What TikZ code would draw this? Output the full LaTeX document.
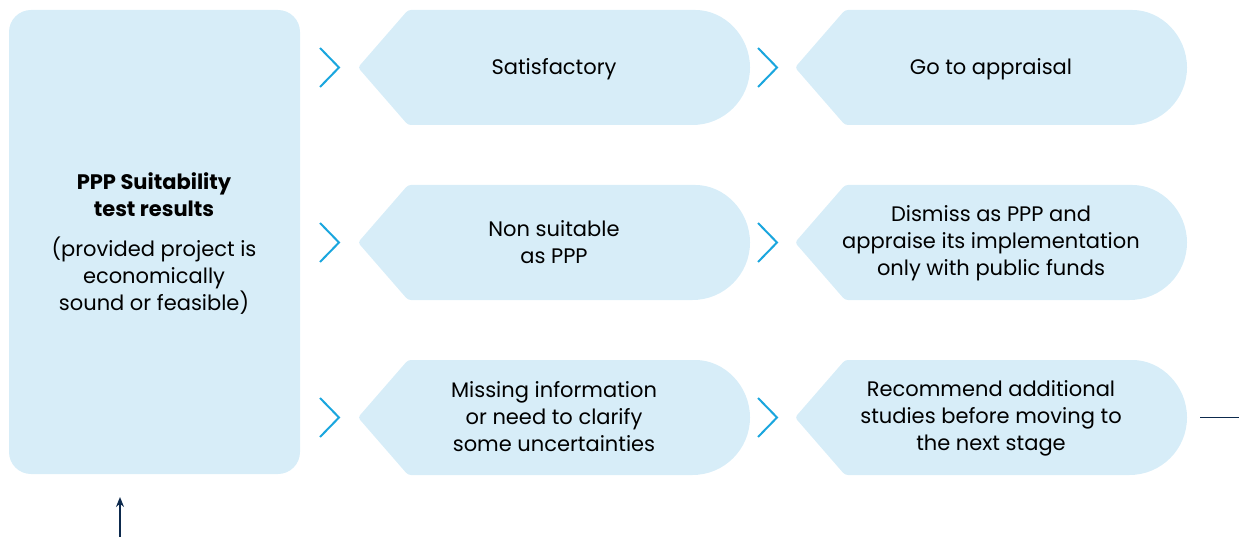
\documentclass[tikz,border=0pt]{standalone}
\usepackage{fontspec}
\setmainfont{Poppins}
\usetikzlibrary{arrows.meta}
\definecolor{boxfill}{HTML}{D7EDF8}
\definecolor{chevcol}{HTML}{1AA6DE}
\definecolor{navy}{HTML}{0D2A4D}
\tikzset{
  x=1pt, y=-1pt,
  lbl/.style={align=center, font=\fontsize{21}{27}\selectfont, text=black},
  chev/.style={draw=chevcol, line width=2pt},
  tag/.style={fill=boxfill, rounded corners=3pt},
}
% tag shape: #1 = tip x, #2 = right x, #3 = top y
\newcommand{\tagshape}[3]{%
  \fill[tag] (#1+50,#3) -- (#2-57.5,#3) [sharp corners] arc[start angle=-90,end angle=90,radius=57.5] [rounded corners=3pt] -- (#1+50,#3+115) -- (#1,#3+57.5) -- cycle;}
\begin{document}
\begin{tikzpicture}
\useasboundingbox (0,0) rectangle (1239,537);
% left box
\fill[boxfill, rounded corners=22pt] (9,10) rectangle (300,474);
\node[lbl] (res) at (154,243.5) {\textbf{PPP Suitability}\\\textbf{test results}\\[13pt](provided project is\\economically\\sound or feasible)};
% tags
\tagshape{358}{750}{10}
\tagshape{358}{750}{185}
\tagshape{358}{750}{360}
\tagshape{795}{1187}{10}
\tagshape{795}{1187}{185}
\tagshape{795}{1187}{360}
\node[lbl] (sat) at (554,69) {Satisfactory};
\node[lbl] (non) at (554,242) {Non suitable\\as PPP};
\node[lbl] (mis) at (554,416.5) {Missing information\\or need to clarify\\some uncertainties};
\node[lbl] (go) at (991,69) {Go to appraisal};
\node[lbl] (dis) at (991,243.5) {Dismiss as PPP and\\appraise its implementation\\only with public funds};
\node[lbl] (rec) at (991,418.5) {Recommend additional\\studies before moving to\\the next stage};
% chevrons
\foreach \cx in {320,758}{
  \foreach \cy in {67.5,242.5,417.5}{
    \draw[chev] (\cx,\cy-19.5) -- (\cx+19,\cy) -- (\cx,\cy+19.5);
  }
}
% exit line
\coordinate (outA) at (1200,417.5);
\coordinate (outB) at (1239,417.5);
\draw[navy, line width=1.5pt] (outA) -- (outB);
% input arrow
\coordinate (inA) at (120,537);
\coordinate (inB) at (120,497);
\draw[navy, line width=1.3pt, -{Stealth[length=10pt,width=8pt]}] (inA) -- (inB);
\end{tikzpicture}
\end{document}
